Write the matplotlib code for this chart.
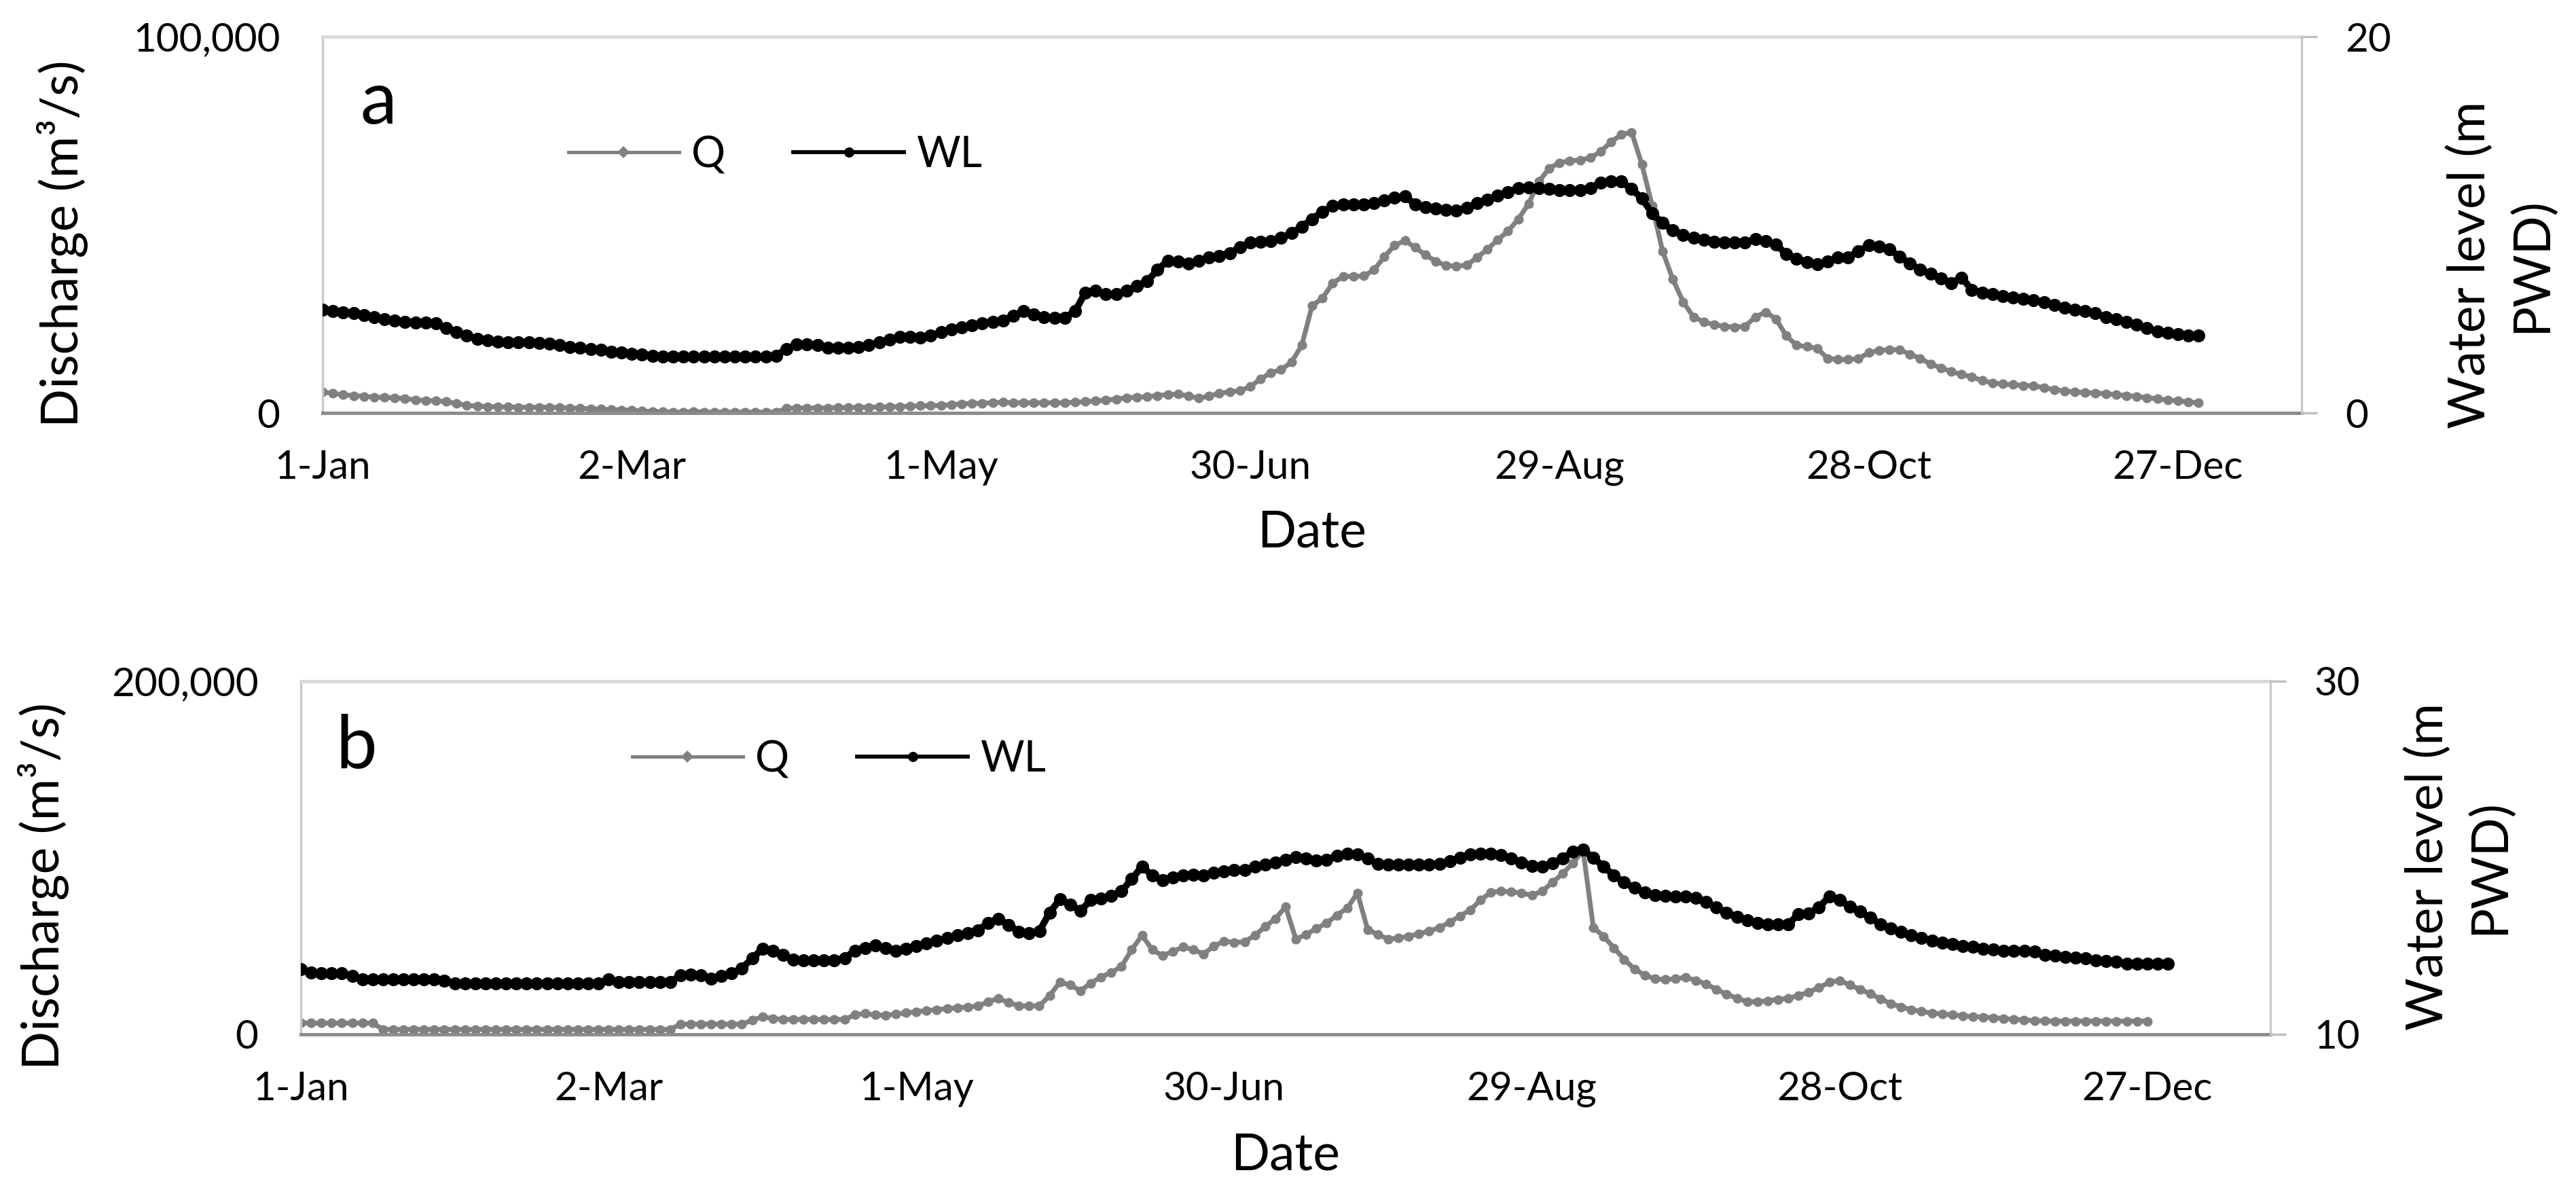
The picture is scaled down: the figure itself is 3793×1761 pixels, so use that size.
import matplotlib.pyplot as plt
import numpy as np
from matplotlib.ticker import FuncFormatter
from matplotlib.lines import Line2D

plt.rcParams['font.family'] = ['Lato', 'DejaVu Sans']

tick_days = [0, 60, 120, 180, 240, 300, 360]
tick_labels = ['1-Jan', '2-Mar', '1-May', '30-Jun', '29-Aug', '28-Oct', '27-Dec']

# values read every second day from 1-Jan; Q in 1000 m3/s, WL in m PWD
q_a = [5.6, 5.2, 4.8, 4.6, 4.4, 4.2, 4.1, 4.0, 3.8, 3.5,
       3.3, 3.2, 3.0, 2.5, 2.0, 1.8, 1.7, 1.6, 1.6, 1.5,
       1.5, 1.5, 1.5, 1.4, 1.3, 1.2, 1.1, 1.0, 0.9, 0.8,
       0.7, 0.5, 0.4, 0.3, 0.2, 0.2, 0.4, 0.2, 0.2, 0.2,
       0.2, 0.2, 0.2, 0.2, 0.2, 1.2, 1.3, 1.3, 1.3, 1.3,
       1.4, 1.4, 1.5, 1.5, 1.6, 1.6, 1.7, 1.8, 1.9, 1.9,
       2.0, 2.2, 2.4, 2.5, 2.6, 2.7, 2.8, 2.7, 2.7, 2.7,
       2.7, 2.7, 2.7, 2.8, 3.0, 3.2, 3.4, 3.7, 4.0, 4.2,
       4.3, 4.6, 4.9, 5.0, 4.5, 3.9, 4.5, 5.2, 5.6, 5.9,
       7.0, 9.0, 10.7, 11.5, 13.5, 18.0, 28.5, 30.5, 34.5, 36.3,
       36.3, 36.4, 38.0, 41.5, 44.5, 45.8, 44.0, 42.0, 40.3, 39.2,
       39.0, 39.3, 41.3, 43.5, 46.0, 48.3, 51.5, 55.6, 61.5, 65.0,
       66.5, 67.0, 67.2, 67.8, 69.5, 72.0, 74.0, 74.6, 66.0, 55.0,
       43.0, 35.5, 29.5, 25.5, 24.2, 23.5, 23.0, 22.8, 23.0, 25.5,
       26.8, 25.0, 20.5, 18.0, 17.6, 17.2, 14.5, 14.2, 14.2, 14.4,
       16.0, 16.6, 16.8, 16.8, 15.6, 14.5, 13.0, 12.0, 11.0, 10.2,
       9.6, 8.6, 8.0, 7.7, 7.5, 7.3, 7.2, 6.7, 6.2, 5.8,
       5.6, 5.4, 5.3, 5.1, 4.9, 4.6, 4.4, 4.0, 3.8, 3.4,
       3.2, 2.9, 2.7]

wl_a = [5.5, 5.4, 5.35, 5.3, 5.2, 5.1, 5.0, 4.9, 4.85, 4.8,
        4.8, 4.75, 4.5, 4.3, 4.1, 3.95, 3.85, 3.8, 3.75, 3.75,
        3.75, 3.72, 3.7, 3.6, 3.5, 3.45, 3.4, 3.35, 3.25, 3.2,
        3.15, 3.1, 3.05, 3.0, 3.0, 3.0, 3.0, 3.0, 3.0, 3.0,
        3.0, 3.0, 3.0, 3.0, 3.05, 3.4, 3.65, 3.65, 3.6, 3.45,
        3.45, 3.45, 3.5, 3.6, 3.75, 3.9, 4.05, 4.05, 4.0, 4.1,
        4.3, 4.45, 4.55, 4.65, 4.75, 4.85, 4.9, 5.15, 5.4, 5.25,
        5.1, 5.05, 5.05, 5.4, 6.4, 6.5, 6.3, 6.3, 6.5, 6.75,
        7.0, 7.6, 8.1, 8.05, 7.95, 8.1, 8.25, 8.35, 8.5, 8.8,
        9.05, 9.1, 9.15, 9.3, 9.55, 9.9, 10.3, 10.7, 11.0, 11.1,
        11.1, 11.1, 11.15, 11.3, 11.45, 11.5, 11.1, 10.95, 10.85, 10.8,
        10.75, 10.9, 11.15, 11.35, 11.55, 11.75, 11.95, 12.0, 11.95, 11.9,
        11.85, 11.85, 11.85, 11.95, 12.25, 12.3, 12.3, 11.9, 11.4, 10.6,
        10.1, 9.7, 9.45, 9.3, 9.2, 9.1, 9.05, 9.05, 9.05, 9.25,
        9.15, 8.95, 8.45, 8.2, 8.0, 7.9, 8.05, 8.25, 8.25, 8.6,
        8.9, 8.85, 8.7, 8.3, 7.95, 7.6, 7.4, 7.15, 6.9, 7.2,
        6.55, 6.4, 6.3, 6.2, 6.15, 6.05, 6.0, 5.9, 5.75, 5.6,
        5.5, 5.4, 5.3, 5.1, 5.0, 4.85, 4.7, 4.5, 4.35, 4.25,
        4.2, 4.1, 4.1]

q_b = [6.4, 6.4, 6.4, 6.4, 6.4, 6.4, 6.4, 6.4, 2.8, 2.8,
       2.8, 2.8, 2.8, 2.8, 2.8, 2.8, 2.8, 2.8, 2.8, 2.8,
       2.8, 2.8, 2.8, 2.8, 2.8, 2.8, 2.8, 2.8, 2.8, 2.8,
       2.8, 2.8, 2.8, 2.8, 2.8, 2.8, 2.8, 5.8, 5.8, 5.8,
       5.8, 5.8, 5.8, 5.8, 8.0, 10.0, 9.0, 8.5, 8.5, 8.5,
       8.5, 8.5, 8.5, 8.5, 11.0, 11.8, 11.0, 10.8, 11.5, 12.2,
       12.8, 13.5, 14.0, 14.5, 15.0, 15.5, 16.0, 18.5, 20.4, 18.0,
       16.2, 16.0, 16.2, 22.0, 29.5, 28.0, 24.7, 29.0, 32.5, 35.0,
       38.5, 48.0, 56.0, 48.0, 44.5, 47.0, 49.5, 48.0, 45.5, 50.0,
       52.8, 52.0, 52.5, 56.0, 61.0, 65.5, 72.3, 54.0, 56.5, 60.0,
       63.0, 67.5, 71.5, 80.0, 59.3, 56.5, 54.0, 54.5, 55.5, 57.0,
       58.5, 60.5, 63.5, 67.0, 70.5, 76.0, 80.5, 81.0, 80.8, 80.0,
       78.8, 81.0, 86.0, 91.0, 97.0, 104.0, 60.5, 55.5, 49.0, 42.5,
       37.0, 33.5, 31.5, 31.0, 31.5, 32.3, 30.5, 28.5, 25.5, 22.7,
       20.5, 18.5, 18.5, 19.0, 19.8, 20.4, 22.0, 24.0, 26.5, 29.5,
       30.5, 28.0, 25.5, 23.0, 20.0, 17.5, 15.5, 14.0, 13.0, 12.0,
       11.6, 11.0, 10.5, 10.0, 9.8, 9.4, 9.0, 8.5, 8.2, 7.8,
       7.6, 7.5, 7.5, 7.5, 7.5, 7.5, 7.5, 7.5, 7.5, 7.5,
       7.5]

wl_b = [13.7, 13.5, 13.45, 13.45, 13.45, 13.3, 13.1, 13.1, 13.1, 13.1,
        13.1, 13.1, 13.1, 13.1, 13.05, 12.9, 12.9, 12.9, 12.9, 12.9,
        12.9, 12.9, 12.9, 12.9, 12.9, 12.9, 12.9, 12.9, 12.9, 12.9,
        13.1, 12.95, 12.95, 12.95, 12.95, 12.95, 12.95, 13.35, 13.4, 13.35,
        13.15, 13.3, 13.45, 13.75, 14.3, 14.85, 14.75, 14.5, 14.25, 14.2,
        14.2, 14.2, 14.2, 14.3, 14.75, 14.9, 15.05, 14.9, 14.75, 14.85,
        15.0, 15.15, 15.3, 15.45, 15.6, 15.75, 15.9, 16.3, 16.55, 16.2,
        15.8, 15.75, 15.85, 16.9, 17.65, 17.35, 17.0, 17.6, 17.7, 17.85,
        18.1, 18.8, 19.5, 19.0, 18.75, 18.9, 19.0, 19.05, 19.0, 19.15,
        19.25, 19.3, 19.3, 19.5, 19.6, 19.75, 19.9, 20.05, 19.95, 19.85,
        19.9, 20.1, 20.25, 20.2, 19.95, 19.65, 19.6, 19.6, 19.6, 19.6,
        19.6, 19.65, 19.8, 20.0, 20.2, 20.25, 20.25, 20.15, 19.95, 19.75,
        19.55, 19.5, 19.7, 19.95, 20.35, 20.45, 20.0, 19.5, 19.0, 18.6,
        18.3, 18.05, 17.9, 17.85, 17.8, 17.8, 17.75, 17.5, 17.2, 16.9,
        16.65, 16.45, 16.3, 16.25, 16.25, 16.25, 16.8, 16.85, 17.2, 17.8,
        17.6, 17.25, 16.95, 16.6, 16.25, 16.0, 15.8, 15.6, 15.45, 15.3,
        15.2, 15.1, 15.0, 14.95, 14.85, 14.8, 14.75, 14.75, 14.75, 14.7,
        14.5, 14.45, 14.4, 14.35, 14.3, 14.2, 14.15, 14.1, 14.0, 14.0,
        14.0, 14.0, 14.0]

W, H = 3793, 1761
fig = plt.figure(figsize=(W / 300, H / 300), dpi=300)

qcol = '#808080'
fmt = FuncFormatter(lambda v, p: f'{v:,.0f}')


def panel(rect, q, wl, qmax, wlmin, wlmax):
    ax = fig.add_axes(rect)
    ax2 = ax.twinx()
    dq = np.arange(len(q)) * 2
    dw = np.arange(len(wl)) * 2
    ax.plot(dq, np.array(q) * 1000, color=qcol, lw=1.7, marker='o',
            ms=3.4, mew=0)
    ax2.plot(dw, wl, color='black', lw=2.4, marker='o', ms=4.6, mew=0)
    ax.set_xlim(0, 384)
    ax.set_ylim(0, qmax)
    ax2.set_ylim(wlmin, wlmax)
    ax.set_xticks(tick_days)
    ax.set_xticklabels(tick_labels)
    ax.set_yticks([0, qmax])
    ax.yaxis.set_major_formatter(fmt)
    ax2.set_yticks([wlmin, wlmax])
    ax.tick_params(axis='x', length=0, pad=13, labelsize=14)
    ax.tick_params(axis='y', length=0, pad=15, labelsize=14)
    ax2.tick_params(axis='y', length=5.5, width=0.8, color='#bfbfbf',
                    pad=10, labelsize=14)
    for a in (ax, ax2):
        for s in a.spines.values():
            s.set_visible(False)
    ax.spines['top'].set_visible(True)
    ax.spines['top'].set_color('#d9d9d9')
    ax.spines['top'].set_linewidth(1.2)
    ax.spines['left'].set_visible(True)
    ax.spines['left'].set_color('#c8c8c8')
    ax.spines['left'].set_linewidth(0.8)
    ax.spines['bottom'].set_visible(True)
    ax.spines['bottom'].set_color('#8c8c8c')
    ax.spines['bottom'].set_linewidth(1.2)
    ax2.spines['right'].set_visible(True)
    ax2.spines['right'].set_color('#c8c8c8')
    ax2.spines['right'].set_linewidth(0.8)


def fx(x):
    return x / W


def fy(y):
    return 1 - y / H


handles = [Line2D([], [], color=qcol, lw=1.2, marker='D', ms=3, mew=0),
           Line2D([], [], color='black', lw=1.4, marker='o', ms=3.6, mew=0)]
leg_opts = dict(loc='center left', ncol=2, frameon=False, fontsize=15,
                handlelength=2.6, handletextpad=0.3, columnspacing=1.6,
                borderpad=0, borderaxespad=0)

# panel a
panel([fx(475), fy(608), fx(3389 - 475), (608 - 54) / H], q_a, wl_a, 100000, 0, 20)
fig.legend(handles, ['Q', 'WL'], bbox_to_anchor=(fx(837), fy(228)), **leg_opts)
fig.text(fx(530), fy(182), 'a', fontsize=26, ha='left', va='baseline')
fig.text(fx(92), fy(359), 'Discharge (m³/s)', rotation=90, fontsize=18, ha='center', va='center')
fig.text(fx(3682), fy(390), 'Water level (m\nPWD)', rotation=90, fontsize=18,
         ha='center', va='center', multialignment='center', linespacing=1.35)
fig.text(fx(1932), fy(784), 'Date', fontsize=18, ha='center', va='center')

# panel b
panel([fx(443), fy(1523), fx(3343 - 443), (1523 - 1003) / H], q_b, wl_b, 200000, 10, 30)
fig.legend(handles, ['Q', 'WL'], bbox_to_anchor=(fx(931), fy(1118)), **leg_opts)
fig.text(fx(494), fy(1131), 'b', fontsize=26, ha='left', va='baseline')
fig.text(fx(64), fy(1305), 'Discharge (m³/s)', rotation=90, fontsize=18, ha='center', va='center')
fig.text(fx(3620), fy(1276), 'Water level (m\nPWD)', rotation=90, fontsize=18,
         ha='center', va='center', multialignment='center', linespacing=1.35)
fig.text(fx(1893), fy(1701), 'Date', fontsize=18, ha='center', va='center')

fig.savefig('out.png', dpi=300)
